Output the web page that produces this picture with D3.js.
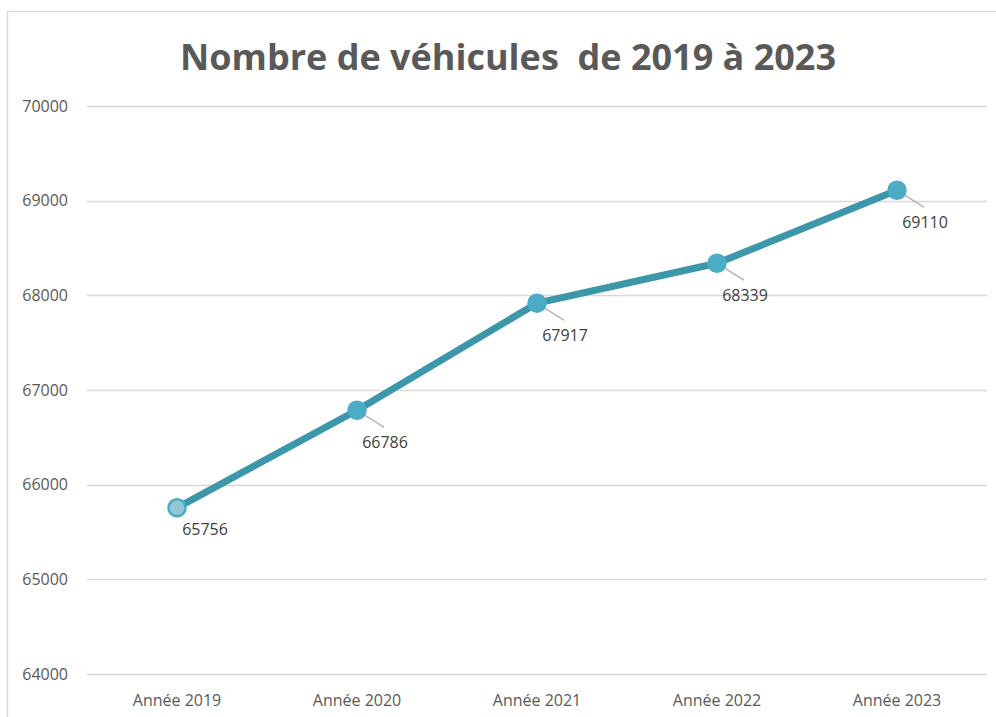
<!DOCTYPE html>
<html><head><meta charset="utf-8">
<script src="https://cdn.jsdelivr.net/npm/d3@7"></script>
<style>html,body{margin:0;padding:0;background:#fff;}</style>
</head><body>
<svg id="c" width="996" height="717"></svg>
<script>
const title = "Nombre de véhicules  de 2019 à 2023";
const categories = ["Année 2019","Année 2020","Année 2021","Année 2022","Année 2023"];
const values = [65756, 66786, 67917, 68339, 69110];
const yTicks = [64000, 65000, 66000, 67000, 68000, 69000, 70000];

const svg = d3.select("#c");
const font = "'Open Sans', 'Noto Sans', sans-serif";

svg.append("rect").attr("x",7.5).attr("y",11.5).attr("width",1000).attr("height",720)
  .attr("fill","#fff").attr("stroke","#d9d9d9").attr("stroke-width",1.5);

const x = d3.scaleBand().domain(categories).range([87, 987]);
const y = d3.scaleLinear().domain([64000, 70000]).range([674, 106]);

// gridlines
svg.append("g").selectAll("line").data(yTicks).join("line")
  .attr("x1",87).attr("x2",987)
  .attr("y1",d=>Math.round(y(d))+0.5).attr("y2",d=>Math.round(y(d))+0.5)
  .attr("stroke","#d9d9d9").attr("stroke-width",1.3);

// y axis labels
const yAxis = d3.axisLeft(y).tickValues(yTicks).tickSize(0).tickPadding(0).tickFormat(d3.format("d"));
const gy = svg.append("g").attr("transform","translate(68,0)").call(yAxis);
gy.select(".domain").remove();
gy.selectAll("text").attr("font-family",font).attr("font-size",16).attr("fill","#595959");

// x axis labels
const xAxis = d3.axisBottom(x).tickSize(0).tickPadding(0);
const gx = svg.append("g").attr("transform","translate(0,694)").call(xAxis);
gx.select(".domain").remove();
gx.selectAll("text").attr("font-family",font).attr("font-size",16).attr("fill","#595959").attr("dy","0.75em");

// title
svg.append("text").attr("x",508).attr("y",70).attr("text-anchor","middle")
  .attr("font-family",font).attr("font-weight","bold").attr("font-size",36)
  .attr("fill","#595959").style("white-space","pre").attr("xml:space","preserve").text(title);

const pts = categories.map((c,i)=>({c, v: values[i], i}));
const cx = d => x(d.c) + x.bandwidth()/2;

// line
svg.append("path").datum(pts)
  .attr("d", d3.line().x(cx).y(d=>y(d.v)))
  .attr("fill","none").attr("stroke","#3d97aa").attr("stroke-width",7)
  .attr("stroke-linejoin","round").attr("stroke-linecap","round");

// leader lines (not drawn for the first label, which sits close to its point)
svg.append("g").selectAll("line").data(pts.filter(d=>d.i>0)).join("line")
  .attr("x1",cx).attr("y1",d=>y(d.v))
  .attr("x2",d=>cx(d)+27).attr("y2",d=>y(d.v)+17)
  .attr("stroke","#a6a6a6").attr("stroke-width",1.2);

// markers
svg.append("g").selectAll("circle").data(pts).join("circle")
  .attr("cx",cx).attr("cy",d=>y(d.v)).attr("r",8.5)
  .attr("fill",d=> d.i===0 ? "#93c6d6" : "#4bacc6")
  .attr("stroke","#4bacc6").attr("stroke-width",2.5);

// data labels
svg.append("g").selectAll("text").data(pts).join("text")
  .attr("x",d=>cx(d)+28).attr("y",d=>y(d.v)+(d.i===0 ? 27 : 38))
  .attr("text-anchor","middle").attr("font-family",font).attr("font-size",16)
  .attr("fill","#404040").text(d=>d.v);
</script>
</body></html>
